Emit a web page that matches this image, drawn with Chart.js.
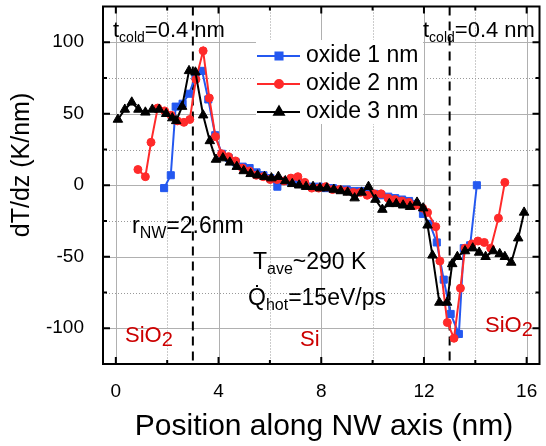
<!DOCTYPE html>
<html>
<head>
<meta charset="utf-8">
<script src="https://cdn.jsdelivr.net/npm/chart.js@4.4.0/dist/chart.umd.min.js"></script>
<style>
  html, body { margin: 0; padding: 0; background: #fff; }
</style>
</head>
<body>
<canvas id="myChart" width="546" height="446"></canvas>
<script>
// ---- data ----
const blueX = [1.88, 2.14, 2.33, 2.6, 2.85, 3.1, 3.36, 3.6, 3.87, 4.13, 4.4, 4.67, 4.94, 5.21, 5.48, 5.75, 6.02, 6.29, 6.56, 6.83, 7.1, 7.37, 7.64, 7.91, 8.18, 8.45, 8.72, 8.99, 9.26, 9.53, 9.8, 10.07, 10.34, 10.61, 10.88, 11.15, 11.42, 11.69, 11.96, 12.23, 12.5, 12.77, 13.04, 13.36, 13.55, 13.8, 14.06];
const blueY = [-2, 7, 55, 57, 64, 76, 80, 60, 35, 22, 19, 16, 13, 12, 9, 7, 5, -1, 3, 2, 1, 0, -1, -1, -2, -2, -3, -3, -4, -4, -5, -6, -7, -8, -9, -10, -11, -13, -20, -27, -40, -66, -90, -104, -44, -42, 0];

const redX = [0.86, 1.15, 1.37, 1.63, 1.9, 2.15, 2.4, 2.65, 2.88, 3.12, 3.4, 3.64, 3.88, 4.12, 4.39, 4.66, 4.93, 5.2, 5.47, 5.74, 6.01, 6.28, 6.55, 6.82, 7.09, 7.36, 7.63, 7.9, 8.17, 8.44, 8.71, 8.98, 9.25, 9.52, 9.79, 10.06, 10.33, 10.6, 10.87, 11.14, 11.41, 11.68, 11.95, 12.14, 12.46, 12.62, 12.91, 13.17, 13.42, 13.6, 13.87, 14.1, 14.35, 14.6, 14.9, 15.15];
const redY = [11, 6, 30, 54, 52, 49, 45, 44, 46, 74, 94, 61, 34, 22, 20, 17, 12, 10, 7, 6, 4, 4, 3, 5, 6, 2, -2, -2, -1, -3, -3, -4, -5, -5, -7, -6, -6, -9, -10, -11, -12, -14, -16, -19, -29, -53, -96, -107, -72, -44, -41, -39, -40, -44, -23, 2];

const blackX = [0.08, 0.35, 0.62, 0.88, 1.15, 1.42, 1.69, 1.96, 2.2, 2.35, 2.58, 2.85, 3.1, 3.4, 3.66, 3.9, 4.17, 4.44, 4.71, 4.98, 5.25, 5.52, 5.79, 6.06, 6.33, 6.6, 6.87, 7.14, 7.41, 7.68, 7.95, 8.22, 8.49, 8.76, 9.03, 9.3, 9.57, 9.84, 10.11, 10.38, 10.65, 10.92, 11.19, 11.46, 11.73, 11.97, 12.14, 12.33, 12.6, 12.9, 13.1, 13.3, 13.6, 13.9, 14.15, 14.4, 14.7, 14.95, 15.15, 15.4, 15.67, 15.9];
const blackY = [46, 53, 58, 53, 51, 53, 53, 50, 47, 45, 55, 80, 79, 49, 31, 18, 19, 16, 13, 10, 8, 7, 6, 5, 6, 3, 1, 0, -1, -1, -2, -2, -3, -4, -5, -9, -5, -1, -10, -17, -13, -13, -14, -15, -12, -16, -28, -49, -82, -82, -55, -50, -46, -44, -47, -50, -46, -48, -50, -54, -37, -19];

const seriesNames = ['oxide 1 nm', 'oxide 2 nm', 'oxide 3 nm'];

const xTicks = [0, 4, 8, 12, 16];
const xMinor = [2, 6, 10, 14];
const yTicks = [-100, -50, 0, 50, 100];
const yMinor = [-75, -25, 25, 75];
const coldEdges = [3, 13];

const FONT = "'Liberation Sans', Arial, sans-serif";
Chart.defaults.font.family = FONT;
Chart.defaults.color = '#000';

function toPts(xs, ys) {
  return xs.map((v, i) => ({ x: v, y: ys[i] }));
}

// text with subscript pieces: [text, size, dy]
function richText(ctx, x, y, parts) {
  let cx = x;
  parts.forEach(p => {
    ctx.font = p[1] + 'px ' + FONT;
    ctx.fillText(p[0], cx, y + (p[2] || 0));
    cx += ctx.measureText(p[0]).width;
  });
}

function seg(ctx, x1, y1, x2, y2) {
  ctx.beginPath();
  ctx.moveTo(x1, y1);
  ctx.lineTo(x2, y2);
  ctx.stroke();
}

const decor = {
  id: 'decor',
  beforeDatasetsDraw(chart) {
    const { ctx, chartArea: a, scales: { x, y } } = chart;
    ctx.save();
    ctx.lineWidth = 1;
    // minor grid (dotted)
    ctx.strokeStyle = '#999999';
    ctx.setLineDash([1, 2]);
    xMinor.forEach(v => { const p = Math.round(x.getPixelForValue(v)) + 0.5; seg(ctx, p, a.top, p, a.bottom); });
    yMinor.forEach(v => { const p = Math.round(y.getPixelForValue(v)) + 0.5; seg(ctx, a.left, p, a.right, p); });
    // major grid (solid)
    ctx.setLineDash([]);
    ctx.strokeStyle = '#b0b0b0';
    xTicks.forEach(v => { const p = Math.round(x.getPixelForValue(v)) + 0.5; seg(ctx, p, a.top, p, a.bottom); });
    yTicks.forEach(v => { const p = Math.round(y.getPixelForValue(v)) + 0.5; seg(ctx, a.left, p, a.right, p); });
    // legend background
    ctx.fillStyle = '#fff';
    ctx.fillRect(256, 40, 167, 84);
    // cold region edges
    ctx.strokeStyle = '#000';
    ctx.lineWidth = 2;
    ctx.setLineDash([9, 6]);
    coldEdges.forEach(v => { const p = x.getPixelForValue(v); seg(ctx, p, a.top, p, a.bottom); });
    ctx.restore();
  },
  afterDraw(chart) {
    const { ctx, chartArea: a, scales: { x, y } } = chart;
    ctx.save();
    // frame
    ctx.strokeStyle = '#000';
    ctx.lineWidth = 2;
    ctx.setLineDash([]);
    ctx.strokeRect(a.left, a.top, a.right - a.left, a.bottom - a.top);
    // inward ticks on all four sides
    const tick = (vals, len) => {
      vals.forEach(v => {
        const p = x.getPixelForValue(v);
        seg(ctx, p, a.bottom, p, a.bottom - len);
        seg(ctx, p, a.top, p, a.top + len);
      });
    };
    const tickY = (vals, len) => {
      vals.forEach(v => {
        const p = y.getPixelForValue(v);
        seg(ctx, a.left, p, a.left + len, p);
        seg(ctx, a.right, p, a.right - len, p);
      });
    };
    tick(xTicks, 7); tick(xMinor, 4);
    tickY(yTicks, 7); tickY(yMinor, 4);

    // legend
    chart.data.datasets.forEach((ds, i) => {
      const ly = 56 + i * 28;
      ctx.strokeStyle = ds.borderColor;
      ctx.lineWidth = 2;
      seg(ctx, 257, ly, 300, ly);
      ctx.fillStyle = ds.backgroundColor;
      Chart.helpers.drawPoint(ctx, { pointStyle: ds.pointStyle, radius: ds.pointRadius, rotation: 0, borderWidth: 1 }, 279, ly);
      ctx.fillStyle = '#000';
      ctx.font = '23px ' + FONT;
      ctx.textBaseline = 'middle';
      ctx.fillText(ds.label, 306, ly);
    });

    // annotations
    ctx.textBaseline = 'alphabetic';
    ctx.fillStyle = '#000';
    richText(ctx, 113, 37, [['t', 22], ['cold', 14, 5], ['=0.4 nm', 22]]);
    richText(ctx, 423, 37, [['t', 22], ['cold', 14, 5], ['=0.4 nm', 22]]);
    richText(ctx, 132, 233, [['r', 23], ['NW', 16, 5], ['=2.6nm', 23]]);
    richText(ctx, 253, 269, [['T', 23], ['ave', 16, 5], ['~290 K', 23]]);
    richText(ctx, 248, 305, [['Q\u0307', 23], ['hot', 16, 5], ['=15eV/ps', 23]]);
    ctx.fillStyle = '#cc0000';
    richText(ctx, 125, 342, [['SiO', 22], ['2', 20, 4]]);
    richText(ctx, 300, 346, [['Si', 22]]);
    richText(ctx, 485, 332, [['SiO', 22], ['2', 20, 4]]);

    // axis titles
    ctx.fillStyle = '#000';
    ctx.font = '30px ' + FONT;
    ctx.textAlign = 'center';
    ctx.fillText('Position along NW axis (nm)', 324, 435);
    ctx.save();
    ctx.translate(22, 165);
    ctx.rotate(-Math.PI / 2);
    ctx.font = '25px ' + FONT;
    ctx.textBaseline = 'middle';
    ctx.fillText('dT/dz (K/nm)', 0, 0);
    ctx.restore();
    ctx.restore();
  }
};

const ctx = document.getElementById('myChart').getContext('2d');
const chart = new Chart(ctx, {
  type: 'scatter',
  data: {
    datasets: [
      {
        label: seriesNames[0],
        data: toPts(blueX, blueY),
        borderColor: '#2458f0',
        backgroundColor: '#2458f0',
        pointStyle: 'rect',
        pointRadius: 5,
        pointBorderWidth: 1,
        borderWidth: 2,
        showLine: true,
        order: 3
      },
      {
        label: seriesNames[1],
        data: toPts(redX, redY),
        borderColor: '#ff2a2a',
        backgroundColor: '#ff2a2a',
        pointStyle: 'circle',
        pointRadius: 4,
        pointBorderWidth: 1,
        borderWidth: 2,
        showLine: true,
        order: 2
      },
      {
        label: seriesNames[2],
        data: toPts(blackX, blackY),
        borderColor: '#000',
        backgroundColor: '#000',
        pointStyle: 'triangle',
        pointRadius: 5.5,
        pointBorderWidth: 1,
        borderWidth: 2,
        showLine: true,
        order: 1
      }
    ]
  },
  options: {
    responsive: false,
    animation: false,
    devicePixelRatio: 1,
    layout: { padding: { top: 6, right: -3, left: 0, bottom: 0 } },
    plugins: { legend: { display: false }, tooltip: { enabled: false } },
    scales: {
      x: {
        type: 'linear',
        min: -0.5,
        max: 16.5,
        afterBuildTicks: s => { s.ticks = xTicks.map(v => ({ value: v })); },
        afterFit: s => { s.height = 82; s.paddingLeft = 0; s.paddingRight = 0; },
        grid: { display: false },
        border: { display: false },
        ticks: { font: { size: 19 }, color: '#000', padding: 8, maxRotation: 0, autoSkip: false }
      },
      y: {
        type: 'linear',
        min: -125,
        max: 125,
        afterBuildTicks: s => { s.ticks = yTicks.map(v => ({ value: v })); },
        afterFit: s => { s.width = 103; s.paddingTop = 0; s.paddingBottom = 0; },
        grid: { display: false },
        border: { display: false },
        ticks: { font: { size: 19 }, color: '#000', padding: 11 }
      }
    }
  },
  plugins: [decor]
});
</script>
</body>
</html>
